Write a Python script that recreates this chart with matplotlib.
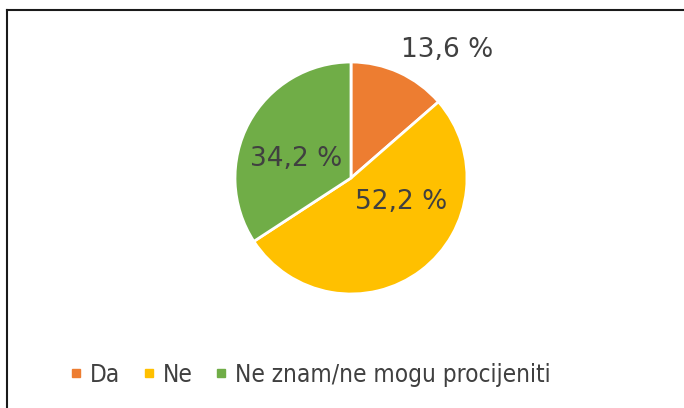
import matplotlib
matplotlib.use('Agg')
import matplotlib.pyplot as plt
from matplotlib.lines import Line2D

# podaci
categories = ['Da', 'Ne', 'Ne znam/ne mogu procijeniti']
values = [13.6, 52.2, 34.2]
labels = ['13,6 %', '52,2 %', '34,2 %']
colors = ['#ED7D31', '#FFC000', '#70AD47']
# pozicije oznaka relativno prema sredistu (u polumjerima)
label_pos = [(0.83, 1.10), (0.43, -0.21), (-0.47, 0.16)]

plt.rcParams['font.family'] = ['DejaVu Sans']
text_color = '#404040'

W, H = 684, 408
fig = plt.figure(figsize=(W / 100, H / 100), dpi=100)

cx, cy, R = 351, 178, 116
half = 125
ax = fig.add_axes([(cx - half) / W, (H - cy - half) / H, 2 * half / W, 2 * half / H])
ax.pie(values, colors=colors, startangle=90, counterclock=False, radius=1,
       wedgeprops=dict(edgecolor='white', linewidth=2))
lim = half / R
ax.set_xlim(-lim, lim)
ax.set_ylim(-lim, lim)
ax.set_aspect('equal')
ax.axis('off')

for lab, (x, y) in zip(labels, label_pos):
    ax.text(x, y, lab, ha='center', va='center', fontsize=19, color=text_color)

# okvir (gornji i lijevi rub)
fig.add_artist(Line2D([7 / W, 7 / W], [0, 1 - 10 / H], transform=fig.transFigure,
                      color='#1a1a1a', linewidth=1.5))
fig.add_artist(Line2D([7 / W, 1], [1 - 10 / H, 1 - 10 / H], transform=fig.transFigure,
                      color='#1a1a1a', linewidth=1.5))

handles = [Line2D([], [], marker='s', linestyle='none', markersize=6,
                  markerfacecolor=c, markeredgecolor=c) for c in colors]
fig.legend(handles, categories, loc='center left', bbox_to_anchor=(69 / W, 1 - 375 / H),
           ncol=3, frameon=False, prop=dict(size=17.5, stretch='condensed'),
           labelcolor=text_color,
           handlelength=0.6, handletextpad=0.25, columnspacing=0.9,
           borderpad=0, borderaxespad=0)

fig.savefig('out.png', dpi=100)
